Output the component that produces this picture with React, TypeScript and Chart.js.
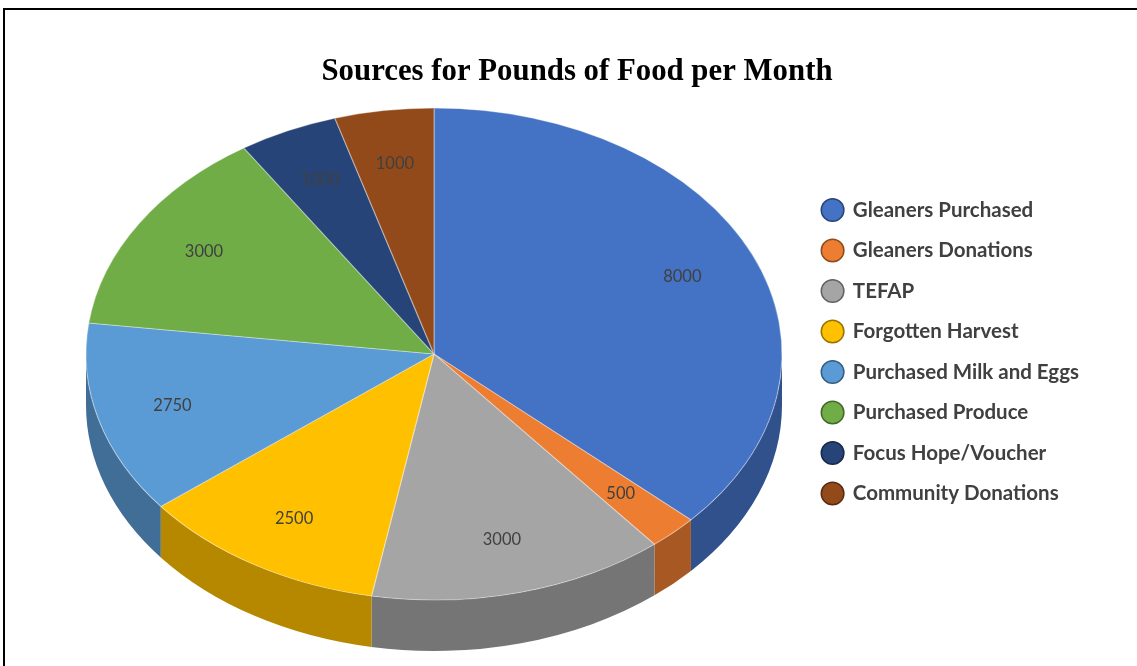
import { useEffect, useRef } from 'react';
import { Chart, registerables } from 'chart.js';

Chart.register(...registerables);

// ---- data ----
const categories = [
  'Gleaners Purchased',
  'Gleaners Donations',
  'TEFAP',
  'Forgotten Harvest',
  'Purchased Milk and Eggs',
  'Purchased Produce',
  'Focus Hope/Voucher',
  'Community Donations',
];
const pounds = [8000, 500, 3000, 2500, 2750, 3000, 1000, 1000];
const titleText = 'Sources for Pounds of Food per Month';

// ---- styles ----
const sliceColors = ['#4472C4', '#ED7D31', '#A5A5A5', '#FFC000', '#5B9BD5', '#70AD47', '#264478', '#934A1A'];
const PIE = { cx: 434, cy: 354, rx: 348, ry: 246, depth: 51, labelPos: 0.78 };

function shade(hex: string, f: number): string {
  const h = hex.replace('#', '');
  const r = Math.round(parseInt(h.slice(0, 2), 16) * f);
  const g = Math.round(parseInt(h.slice(2, 4), 16) * f);
  const b = Math.round(parseInt(h.slice(4, 6), 16) * f);
  return `rgb(${r},${g},${b})`;
}
const sideColors = sliceColors.map((c) => shade(c, 0.71));
const edgeColors = sliceColors.map((c) => shade(c, 0.6));

const pie3d = {
  id: 'pie3d',
  beforeDatasetsDraw(chart: any) {
    const ctx = chart.ctx as CanvasRenderingContext2D;
    const arcs = chart.getDatasetMeta(0).data;
    ctx.save();
    if (!arcs.length) return;
    arcs.forEach((arc: any, i: number) => {
      const { startAngle, endAngle } = arc.getProps(['startAngle', 'endAngle'], true);
      const lo = Math.max(startAngle, 0);
      const hi = Math.min(endAngle, Math.PI);
      if (hi <= lo) return;
      ctx.beginPath();
      ctx.ellipse(PIE.cx, PIE.cy, PIE.rx, PIE.ry, 0, lo, hi, false);
      ctx.ellipse(PIE.cx, PIE.cy + PIE.depth, PIE.rx, PIE.ry, 0, hi, lo, true);
      ctx.closePath();
      ctx.fillStyle = sideColors[i];
      ctx.fill();
    });
    const { x, y, outerRadius } = arcs[0].getProps(['x', 'y', 'outerRadius'], true);
    ctx.translate(PIE.cx, PIE.cy);
    ctx.scale(PIE.rx / outerRadius, PIE.ry / outerRadius);
    ctx.translate(-x, -y);
  },
  afterDatasetsDraw(chart: any) {
    const ctx = chart.ctx as CanvasRenderingContext2D;
    ctx.restore();
    const arcs = chart.getDatasetMeta(0).data;
    const values = chart.data.datasets[0].data;
    ctx.save();
    ctx.font = '16.5px Lato';
    ctx.fillStyle = '#404040';
    ctx.textAlign = 'center';
    ctx.textBaseline = 'middle';
    arcs.forEach((arc: any, i: number) => {
      const { startAngle, endAngle } = arc.getProps(['startAngle', 'endAngle'], true);
      const mid = (startAngle + endAngle) / 2;
      const lx = PIE.cx + Math.cos(mid) * PIE.rx * PIE.labelPos;
      const ly = PIE.cy + Math.sin(mid) * PIE.ry * PIE.labelPos;
      ctx.fillText(String(values[i]), lx, ly);
    });
    ctx.restore();
  },
};

export default function App() {
  const ref = useRef<HTMLCanvasElement | null>(null);

  useEffect(() => {
    if (!ref.current) return;
    const chart = new Chart(ref.current, {
      type: 'pie',
      data: {
        labels: categories,
        datasets: [
          {
            data: pounds,
            backgroundColor: sliceColors,
            borderColor: 'rgba(255,255,255,0.35)',
            borderWidth: 1,
            clip: false as any,
          },
        ],
      },
      options: {
        responsive: false,
        animation: false,
        events: [],
        layout: { padding: { left: 65, right: 48, top: 54, bottom: 16.5 } },
        plugins: {
          title: {
            display: true,
            text: titleText,
            color: '#000',
            font: { family: '"Liberation Serif", serif', size: 30.8, weight: 'bold' },
            padding: { top: 0, bottom: 20 },
          },
          legend: {
            position: 'right',
            labels: {
              usePointStyle: true,
              pointStyle: 'circle',
              boxWidth: 20,
              boxHeight: 16,
              padding: 20,
              color: '#404040',
              font: { family: 'Lato', size: 20.5, weight: 'bold' },
              generateLabels: (c: any) => {
                const base = (Chart as any).overrides.pie.plugins.legend.labels.generateLabels(c);
                return base.map((item: any, i: number) => ({
                  ...item,
                  strokeStyle: edgeColors[i],
                  lineWidth: 1.5,
                }));
              },
            },
          },
          tooltip: { enabled: false },
        },
      },
      plugins: [pie3d],
    });
    return () => chart.destroy();
  }, []);

  return (
    <div style={{ position: 'fixed', left: 0, top: 0, width: 1137, height: 666, background: '#fff', overflow: 'hidden' }}>
      <div
        style={{
          position: 'absolute',
          left: 3,
          top: 8,
          right: -10,
          bottom: -10,
          borderTop: '2px solid #000',
          borderLeft: '2px solid #000',
        }}
      />
      <canvas ref={ref} width={1137} height={666} style={{ position: 'absolute', left: 0, top: 0 }} />
    </div>
  );
}
